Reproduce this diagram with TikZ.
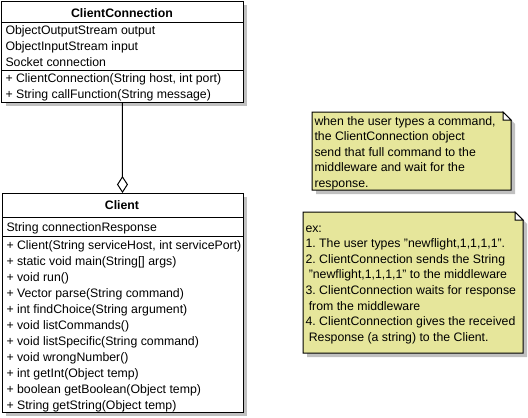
\documentclass[tikz,border=0pt]{standalone}
\usepackage{fontspec}
\setmainfont{Liberation Sans}
\usetikzlibrary{arrows.meta,shadows}
\definecolor{notey}{RGB}{230,230,155}
\definecolor{shadowc}{RGB}{192,192,192}
\frenchspacing
\begin{document}
\begin{tikzpicture}[x=1pt,y=-1pt, line width=1pt,
  classbox/.style={draw=black, fill=white, inner sep=0pt, outer sep=0pt, anchor=north west,
    drop shadow={shadow xshift=4pt, shadow yshift=-4pt, fill=shadowc, opacity=1}},
  txt/.style={anchor=base west, inner sep=0pt, font=\fontsize{12.3}{14}\selectfont},
  ttl/.style={anchor=base, inner sep=0pt, font=\fontsize{12.3}{14}\selectfont\bfseries},
  notearea/.style={inner sep=0pt, outer sep=0pt, anchor=north west},
  notebody/.style={fill=notey, draw=black},
  noteshadow/.style={fill=shadowc},
  sepline/.style={draw=black},
  aggr/.style={-{Diamond[open,length=17pt,width=11pt]}}]
\useasboundingbox (0,0) rectangle (528,418);

% ClientConnection
\node[classbox, minimum width=241.5pt, minimum height=101pt] (cc) at (1.5,1) {};
\draw[sepline] (1.5,22) -- (243,22);
\draw[sepline] (1.5,70) -- (243,70);
\node[ttl] (cc-t) at (122,17) {ClientConnection};
\node[txt] (cc-a1) at (5,34) {ObjectOutputStream output};
\node[txt] (cc-a2) at (5,50) {ObjectInputStream input};
\node[txt] (cc-a3) at (5,66) {Socket connection};
\node[txt] (cc-m1) at (5,82) {+ ClientConnection(String host, int port)};
\node[txt] (cc-m2) at (5,98) {+ String callFunction(String message)};

% Client
\node[classbox, minimum width=241pt, minimum height=219pt] (cl) at (2,193) {};
\draw[sepline] (2,217) -- (243,217);
\draw[sepline] (2,236) -- (243,236);
\node[ttl] (cl-t) at (122,209) {Client};
\node[txt] (cl-a1) at (6,231) {String connectionResponse};
\foreach \t [count=\i from 0] in {%
  {+ Client(String serviceHost, int servicePort)},
  {+ static void main(String[] args)},
  {+ void run()},
  {+ Vector parse(String command)},
  {+ int findChoice(String argument)},
  {+ void listCommands()},
  {+ void listSpecific(String command)},
  {+ void wrongNumber()},
  {+ int getInt(Object temp)},
  {+ boolean getBoolean(Object temp)},
  {+ String getString(Object temp)}}
  \node[txt] (cl-m\i) at (6,249+16*\i) {\t};

% aggregation
\draw[aggr] (cc.south) -- (cl.north);

% Note 1
\node[notearea, minimum width=199pt, minimum height=78pt] (n1) at (312,112) {};
\fill[noteshadow] (316,116) -- (507,116) -- (515,124) -- (515,194) -- (316,194) -- cycle;
\filldraw[notebody] (n1.north west) -- ([xshift=-8pt]n1.north east) -- ([yshift=-8pt]n1.north east) -- (n1.south east) -- (n1.south west) -- cycle;
\filldraw[fill=white, draw=black] ([xshift=-8pt]n1.north east) -- ([xshift=-8pt,yshift=-8pt]n1.north east) -- ([yshift=-8pt]n1.north east) -- cycle;
\node[txt] (n1-1) at (314,125) {when the user types a command,};
\node[txt] (n1-2) at (314,140.6) {the ClientConnection object};
\node[txt] (n1-3) at (314,156.2) {send that full command to the};
\node[txt] (n1-4) at (314,171.8) {middleware and wait for the};
\node[txt] (n1-5) at (314,187.4) {response.};

% Note 2
\node[notearea, minimum width=220pt, minimum height=141pt] (n2) at (303,212) {};
\fill[noteshadow] (307,216) -- (519,216) -- (527,224) -- (527,357) -- (307,357) -- cycle;
\filldraw[notebody] (n2.north west) -- ([xshift=-8pt]n2.north east) -- ([yshift=-8pt]n2.north east) -- (n2.south east) -- (n2.south west) -- cycle;
\filldraw[fill=white, draw=black] ([xshift=-8pt]n2.north east) -- ([xshift=-8pt,yshift=-8pt]n2.north east) -- ([yshift=-8pt]n2.north east) -- cycle;
\node[txt] (n2-1) at (305,232) {ex:};
\node[txt] (n2-2) at (305,247.6) {1. The user types "newflight,1,1,1,1".};
\node[txt] (n2-3) at (305,263.2) {2. ClientConnection sends the String};
\node[txt] (n2-4) at (305,278.8) {\hspace*{3.3pt}"newflight,1,1,1,1" to the middleware};
\node[txt] (n2-5) at (305,294.4) {3. ClientConnection waits for response};
\node[txt] (n2-6) at (305,310) {\hspace*{3.3pt}from the middleware};
\node[txt] (n2-7) at (305,325.6) {4. ClientConnection gives the received};
\node[txt] (n2-8) at (305,341.2) {\hspace*{3.3pt}Response (a string) to the Client.};
\end{tikzpicture}
\end{document}
